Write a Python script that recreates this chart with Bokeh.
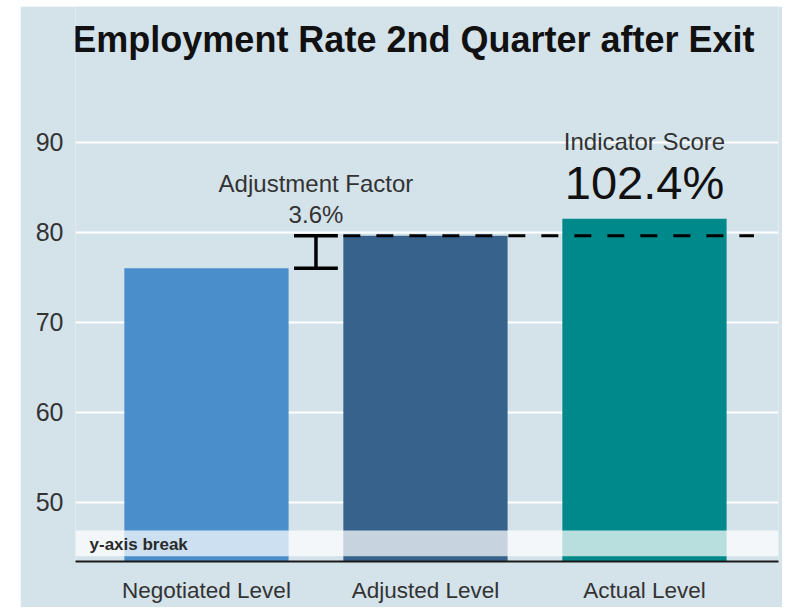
from bokeh.plotting import figure
from bokeh.models import Range1d, FixedTicker, Label, BoxAnnotation, Spacer
from bokeh.layouts import row, column
from bokeh.embed import file_html
from bokeh.resources import INLINE

# ---- data ----
categories = ["Negotiated Level", "Adjusted Level", "Actual Level"]
levels = [76.0, 79.6, 81.5]
bar_colors = ["#4a8fcc", "#36628b", "#00898a"]
y_ticks = [50, 60, 70, 80, 90]
axis_min = 43.4
axis_max = 105.08
break_low = 43.97
break_high = 46.85
title_text = "Employment Rate 2nd Quarter after Exit"

adjustment = levels[1] - levels[0]
score = levels[2] / levels[1] * 100

FONT = "Liberation Sans"
BG = "#d4e2ea"
xs = list(range(len(categories)))

p = figure(width=762, height=601, output_backend="svg", toolbar_location=None,
           x_range=Range1d(-0.598, 2.612), y_range=Range1d(axis_min, axis_max),
           min_border_left=55, min_border_right=4, min_border_top=0, min_border_bottom=46)
p.background_fill_color = BG
p.border_fill_color = BG
p.outline_line_color = None

# grid
p.xgrid.grid_line_color = None
p.ygrid.ticker = FixedTicker(ticks=y_ticks)
p.ygrid.grid_line_color = "white"
p.ygrid.grid_line_width = 2

# axes
p.yaxis.ticker = FixedTicker(ticks=y_ticks)
p.yaxis.axis_line_color = None
p.yaxis.major_tick_line_color = None
p.yaxis.minor_tick_line_color = None
p.yaxis.major_label_text_font = FONT
p.yaxis.major_label_text_font_size = "25px"
p.yaxis.major_label_text_color = "#333333"
p.yaxis.major_label_standoff = 6

p.xaxis.ticker = FixedTicker(ticks=xs)
p.xaxis.major_label_overrides = {i: c for i, c in zip(xs, categories)}
p.xaxis.axis_line_color = "#1a1a1a"
p.xaxis.axis_line_width = 2
p.xaxis.major_tick_line_color = None
p.xaxis.minor_tick_line_color = None
p.xaxis.major_label_text_font = FONT
p.xaxis.major_label_text_font_size = "22.5px"
p.xaxis.major_label_text_color = "#333333"
p.xaxis.major_label_standoff = 10

# bars
p.vbar(x=xs, top=levels, bottom=axis_min, width=0.75, fill_color=bar_colors, line_color=None)

# adjustment "I" bar between the first two bars
xm = (xs[0] + xs[1]) / 2
cap = 0.1
p.segment(x0=[xm], y0=[levels[0]], x1=[xm], y1=[levels[1]], line_color="black", line_width=3.5)
p.segment(x0=[xm - cap, xm - cap], y0=[levels[0], levels[1]], x1=[xm + cap, xm + cap],
          y1=[levels[0], levels[1]], line_color="black", line_width=3.5)

# dashed adjusted level reference
p.segment(x0=[xs[1] - 0.375], y0=[levels[1]], x1=[xs[2] + 0.5], y1=[levels[1]],
          line_color="black", line_width=3, line_dash="17 16")

# y-axis break band
p.add_layout(BoxAnnotation(bottom=break_low, top=break_high, fill_color="white",
                           fill_alpha=0.72, line_color=None))
p.add_layout(Label(x=-0.534, y=45.3, text="y-axis break", text_font=FONT,
                   text_font_size="17px", text_font_style="bold", text_color="#2a2a2a",
                   text_align="left", text_baseline="middle"))

# annotations
p.add_layout(Label(x=xm, y=85.36, text="Adjustment Factor", text_font=FONT,
                   text_font_size="24px", text_color="#333333",
                   text_align="center", text_baseline="middle"))
p.add_layout(Label(x=xm, y=81.97, text=f"{adjustment:.1f}%", text_font=FONT,
                   text_font_size="24px", text_color="#333333",
                   text_align="center", text_baseline="middle"))
p.add_layout(Label(x=xs[2], y=90.13, text="Indicator Score", text_font=FONT,
                   text_font_size="24px", text_color="#333333",
                   text_align="center", text_baseline="middle"))
p.add_layout(Label(x=xs[2], y=85.52, text=f"{score:.1f}%", text_font=FONT,
                   text_font_size="47px", text_color="#111111",
                   text_align="center", text_baseline="middle"))

# title
p.add_layout(Label(x=0.945, y=101.4, text=title_text, text_font=FONT,
                   text_font_size="36px", text_font_style="bold", text_color="#111111",
                   text_align="center", text_baseline="middle"))

layout = column(Spacer(width=782, height=6),
                row(Spacer(width=20, height=601), p))
open("out.html", "w").write(file_html(layout, INLINE))
